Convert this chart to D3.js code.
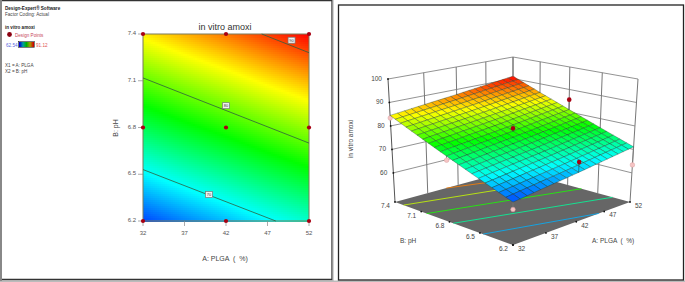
<!DOCTYPE html>
<html><head><meta charset="utf-8">
<script src="https://cdnjs.cloudflare.com/ajax/libs/d3/7.8.5/d3.min.js"></script>
<style>html,body{margin:0;padding:0;background:#fff}svg{display:block}text{font-family:"Liberation Sans",Arial,sans-serif}</style>
</head><body><svg id="c" width="685" height="282"></svg>
<script>
const plgaTicks=[32,37,42,47,52];
const phTicks=[6.2,6.5,6.8,7.1,7.4];
const zTicks=[60,70,80,90,100];
// predicted response, rows = pH, columns = PLGA
const surfaceRows=[
 [64.5,66.2,67.8,69.5,71.1],
 [69.5,71.2,72.8,74.5,76.1],
 [74.5,76.2,77.8,79.5,81.1],
 [79.5,81.2,82.8,84.5,86.1],
 [84.5,86.2,87.8,89.5,91.1]];
const designPLGA=[32,42,52,32,42,52,32,42,52];
const designPH=[6.2,6.2,6.2,6.8,6.8,6.8,7.4,7.4,7.4];
const designValues=[61.6,72,63.4,72.8,79,85.5,83.4,86,90];
const contour2D=[
 {level:70,pts:[[32,6.53],[48,6.2]],label:[39.95,6.37]},
 {level:80,pts:[[32,7.118],[52,6.70]],label:[42,6.94]},
 {level:90,pts:[[46.3,7.4],[52,7.28]],label:[49.9,7.36]}];
const contourFloor=[
 {level:70,pts:[[32,6.47],[46,6.2]]},
 {level:75,pts:[[32,6.76],[52,6.36]]},
 {level:80,pts:[[32,7.04],[52,6.66]]},
 {level:85,pts:[[32,7.3],[52,6.95]]},
 {level:90,pts:[[40,7.4],[52,7.15]]}];
const colorStops=["#0000ff","#00ffff","#00ff00","#ffff00","#ff0000"];
const legendMin=62.54, legendMax=91.12, floorZ=47.6;

const svg=d3.select("#c");
const color=d3.scaleLinear().domain(d3.range(5).map(i=>legendMin+i*(legendMax-legendMin)/4)).range(colorStops).clamp(true);
const aIdx=d3.scaleLinear().domain(plgaTicks).range(d3.range(5));
const pIdx=d3.scaleLinear().domain(phTicks).range(d3.range(5));
function val(a,p){
  const i=Math.min(3,Math.floor(aIdx(a))),j=Math.min(3,Math.floor(pIdx(p)));
  const s=aIdx(a)-i,t=pIdx(p)-j,r=surfaceRows;
  return (1-t)*((1-s)*r[j][i]+s*r[j][i+1])+t*((1-s)*r[j+1][i]+s*r[j+1][i+1]);
}
// frames
svg.append("rect").attr("x",0).attr("y",280.5).attr("width",685).attr("height",1.5).attr("fill","#bbb");
svg.append("rect").attr("x",0).attr("y",0).attr("width",2).attr("height",281).attr("fill","#888");
svg.append("path").attr("d","M2,0.7H332V279.5H2").attr("fill","none").attr("stroke","#333").attr("stroke-width",1.3);
svg.append("line").attr("x1",333).attr("x2",333).attr("y1",0).attr("y2",281).attr("stroke","#aaa").attr("stroke-width",1);
svg.append("rect").attr("x",338.5).attr("y",5).attr("width",345).attr("height",275).attr("fill","none").attr("stroke","#222").attr("stroke-width",1.3);

// ---- 2D contour panel
const x=d3.scaleLinear().domain([32,52]).range([143,309]);
const y=d3.scaleLinear().domain([6.2,7.4]).range([221,34]);
const p2=svg.append("g");
const cells=[];
for(let px=143;px<309;px+=2)for(let py=34;py<221;py+=2)cells.push([px,py]);
p2.append("g").attr("shape-rendering","crispEdges").selectAll("rect").data(cells).join("rect")
 .attr("x",d=>d[0]).attr("y",d=>d[1]).attr("width",2).attr("height",2)
 .attr("fill",d=>color(val(x.invert(d[0]+1),y.invert(Math.min(d[1]+1,221)))));
p2.append("rect").attr("x",143).attr("y",34).attr("width",166).attr("height",187).attr("fill","none").attr("stroke","#7a7a5a").attr("stroke-width",1);
const line2=d3.line().x(d=>x(d[0])).y(d=>y(d[1]));
p2.selectAll(".c").data(contour2D).join("path").attr("d",d=>line2(d.pts)).attr("fill","none").attr("stroke","#2f5f3f").attr("stroke-width",0.8);
contour2D.forEach(c=>{
 const g=p2.append("g").attr("transform",`translate(${x(c.label[0])},${y(c.label[1])})`);
 g.append("rect").attr("x",-3.5).attr("y",-3).attr("width",7).attr("height",6).attr("fill","#f2f2f2").attr("stroke","#777").attr("stroke-width",0.7);
 g.append("text").attr("text-anchor","middle").attr("y",1.7).attr("font-size",4).attr("fill","#333").text(c.level);
});
plgaTicks.forEach(t=>{
 p2.append("line").attr("x1",x(t)).attr("x2",x(t)).attr("y1",221).attr("y2",226).attr("stroke","#888").attr("stroke-width",0.7);
 p2.append("text").attr("x",x(t)).attr("y",235).attr("text-anchor","middle").attr("font-size",6).attr("fill","#555").text(t);
});
phTicks.forEach(t=>{
 p2.append("line").attr("x1",138).attr("x2",143).attr("y1",y(t)).attr("y2",y(t)).attr("stroke","#888").attr("stroke-width",0.7);
 p2.append("text").attr("x",136).attr("y",y(t)+1).attr("text-anchor","end").attr("font-size",6).attr("fill","#555").text(t.toFixed(1));
});
p2.selectAll(".d").data(designPLGA).join("circle").attr("cx",d=>x(d)).attr("cy",(d,i)=>y(designPH[i])).attr("r",2.1).attr("fill","#a80012");
p2.append("text").attr("x",225).attr("y",30).attr("text-anchor","middle").attr("font-size",9).attr("fill","#333").text("in vitro amoxi");
p2.append("text").attr("x",225).attr("y",261).attr("text-anchor","middle").attr("font-size",7).attr("fill","#444").attr("xml:space","preserve").text("A: PLGA  (  %)");
p2.append("text").attr("transform","translate(118,128) rotate(-90)").attr("text-anchor","middle").attr("font-size",7).attr("fill","#444").text("B: pH");
// legend
const lg=svg.append("g");
const T=(s,xx,yy,fs,fill,bold)=>lg.append("text").attr("x",xx).attr("y",yy).attr("font-size",fs).attr("fill",fill).attr("font-weight",bold?"bold":null).text(s);
T("Design-Expert® Software",5,10,4.6,"#222",true);
T("Factor Coding: Actual",5,16,4.6,"#444");
T("in vitro amoxi",5,28.5,4.6,"#222",true);
lg.append("circle").attr("cx",9.5).attr("cy",34.5).attr("r",2.4).attr("fill","#8a0010");
T("Design Points",15,36.5,4.6,"#c8485a");
T(legendMin,6,46.5,4.6,"#5a6ae0");
T(legendMax,36,46.5,4.6,"#e05050");
const legendStops=["#0000d0","#00a0a0","#00b000","#a0a000","#d00000"];
const legendColor=d3.scaleLinear().domain([0,.25,.5,.75,1]).range(legendStops);
d3.range(19,34).forEach(px=>lg.append("rect").attr("x",px).attr("y",42).attr("width",1).attr("height",5).attr("shape-rendering","crispEdges")
 .attr("fill",legendColor((px-19)/14)));
lg.append("rect").attr("x",18.5).attr("y",41.5).attr("width",16).attr("height",6).attr("fill","none").attr("stroke","#222").attr("stroke-width",0.6);
T("X1 = A: PLGA",5,66.5,4.6,"#444");
T("X2 = B: pH",5,73,4.6,"#444");

// ---- 3D panel
function homography(q){
 const [[x0,y0],[x1,y1],[x2,y2],[x3,y3]]=q;
 const dx1=x1-x2,dx2=x3-x2,sx=x0-x1+x2-x3,dy1=y1-y2,dy2=y3-y2,sy=y0-y1+y2-y3;
 const den=dx1*dy2-dx2*dy1,g=(sx*dy2-dx2*sy)/den,h=(dx1*sy-sx*dy1)/den;
 const a=x1-x0+g*x1,b=x3-x0+h*x3,d=y1-y0+g*y1,e=y3-y0+h*y3;
 return (u,v)=>{const w=g*u+h*v+1;return [(a*u+b*v+x0)/w,(d*u+e*v+y0)/w];};
}
const floorH=homography([[513,245],[630,202],[513,170],[395,202]]);
const topH=homography([[513,112],[638,79],[513,57],[388,79]]);
const uS=d3.scaleLinear().domain([32,52]).range([0,1]);
const vS=d3.scaleLinear().domain([6.2,7.4]).range([0,1]);
const wS=d3.scaleLinear().domain([floorZ,100]).range([0,1]);
function P(a,p,z){
 const f=floorH(uS(a),vS(p)),t=topH(uS(a),vS(p)),w=wS(z);
 return [f[0]+(t[0]-f[0])*w,f[1]+(t[1]-f[1])*w];
}
const g3=svg.append("g");
const seg=(a,b,st,sw)=>g3.append("line").attr("x1",a[0]).attr("y1",a[1]).attr("x2",b[0]).attr("y2",b[1]).attr("stroke",st).attr("stroke-width",sw);
const wall="#777";
[7.4].forEach(p=>{
 plgaTicks.forEach(a=>seg(P(a,p,floorZ),P(a,p,100),a==32?"#555":wall,1));
 zTicks.forEach(z=>seg(P(32,p,z),P(52,p,z),wall,0.8));
});
[52].forEach(a=>{
 phTicks.forEach(p=>seg(P(a,p,floorZ),P(a,p,100),wall,1));
 zTicks.forEach(z=>seg(P(a,6.2,z),P(a,7.4,z),wall,0.8));
});
const q=[[32,6.2],[52,6.2],[52,7.4],[32,7.4]].map(d=>P(d[0],d[1],floorZ));
g3.append("path").attr("d",d3.line()(q)+"Z").attr("fill","#666");
contourFloor.forEach(c=>{
 g3.append("path").attr("d",d3.line()(c.pts.map(d=>P(d[0],d[1],floorZ)))).attr("fill","none").attr("stroke",color(c.level-2.5)).attr("stroke-opacity",0.8).attr("stroke-width",1);
});
const stem=(i)=>[P(designPLGA[i],designPH[i],designValues[i]),P(designPLGA[i],designPH[i],val(designPLGA[i],designPH[i]))];
const isAbove=i=>designValues[i]>val(designPLGA[i],designPH[i]);
designPLGA.forEach((a,i)=>{ if(!isAbove(i)){const s=stem(i);seg(s[0],s[1],"#777",0.8);
 g3.append("circle").attr("cx",s[0][0]).attr("cy",s[0][1]).attr("r",2.3).attr("fill","#f6c4c4").attr("stroke","#d8a0a0").attr("stroke-width",0.5);}});
const N=20,aStep=(52-32)/N,pStep=(7.4-6.2)/N,mesh=[];
for(let j=N-1;j>=0;j--)for(let i=N-1;i>=0;i--)mesh.push([32+i*aStep,6.2+j*pStep]);
const clampA=a=>Math.min(52,a),clampP=p=>Math.min(7.4,p);
g3.append("g").selectAll("path").data(mesh).join("path")
 .attr("d",d=>{const [a,p]=d,a2=clampA(a+aStep),p2_=clampP(p+pStep);
   return d3.line()([[a,p],[a2,p],[a2,p2_],[a,p2_]].map(c=>P(c[0],c[1],val(c[0],c[1]))))+"Z";})
 .attr("fill",d=>color(val(Math.min(52,d[0]+aStep/2),Math.min(7.4,d[1]+pStep/2))))
 .attr("stroke","#1c3a2c").attr("stroke-opacity",0.6).attr("stroke-width",0.6);
designPLGA.forEach((a,i)=>{ if(isAbove(i)){const s=stem(i);seg(s[0],s[1],"#333",0.8).attr("stroke-opacity",designValues[i]-val(a,designPH[i])>1?0.7:0.4);
 g3.append("circle").attr("cx",s[0][0]).attr("cy",s[0][1]).attr("r",2.3).attr("fill","#a80012");}});
const L=(s,xx,yy,anchor,fs)=>g3.append("text").attr("x",xx).attr("y",yy).attr("text-anchor",anchor||"start").attr("font-size",fs||6.5).attr("fill","#444").text(s);
zTicks.forEach(z=>{const c=P(32,7.4,z);
 g3.append("circle").attr("cx",c[0]).attr("cy",c[1]).attr("r",0.9).attr("fill","#111");
 L(z,c[0]-6,c[1]+2,"end");});
phTicks.forEach(p=>{const c=P(32,p,floorZ);
 g3.append("circle").attr("cx",c[0]).attr("cy",c[1]).attr("r",0.9).attr("fill","#111");
 L(p.toFixed(1),c[0]-5,c[1]+6,"end");});
plgaTicks.forEach(a=>{const c=P(a,6.2,floorZ);
 g3.append("circle").attr("cx",c[0]).attr("cy",c[1]).attr("r",0.9).attr("fill","#111");
 L(a,c[0]+5,c[1]+6,"start");});
L("B: pH",400,243,"start",6.5);
L("A: PLGA  (  %)",592,243,"start",6.5).attr("xml:space","preserve");
g3.append("text").attr("transform","translate(353,139) rotate(-90)").attr("text-anchor","middle").attr("font-size",6.5).attr("fill","#444").text("in vitro amoxi");
</script></body></html>
